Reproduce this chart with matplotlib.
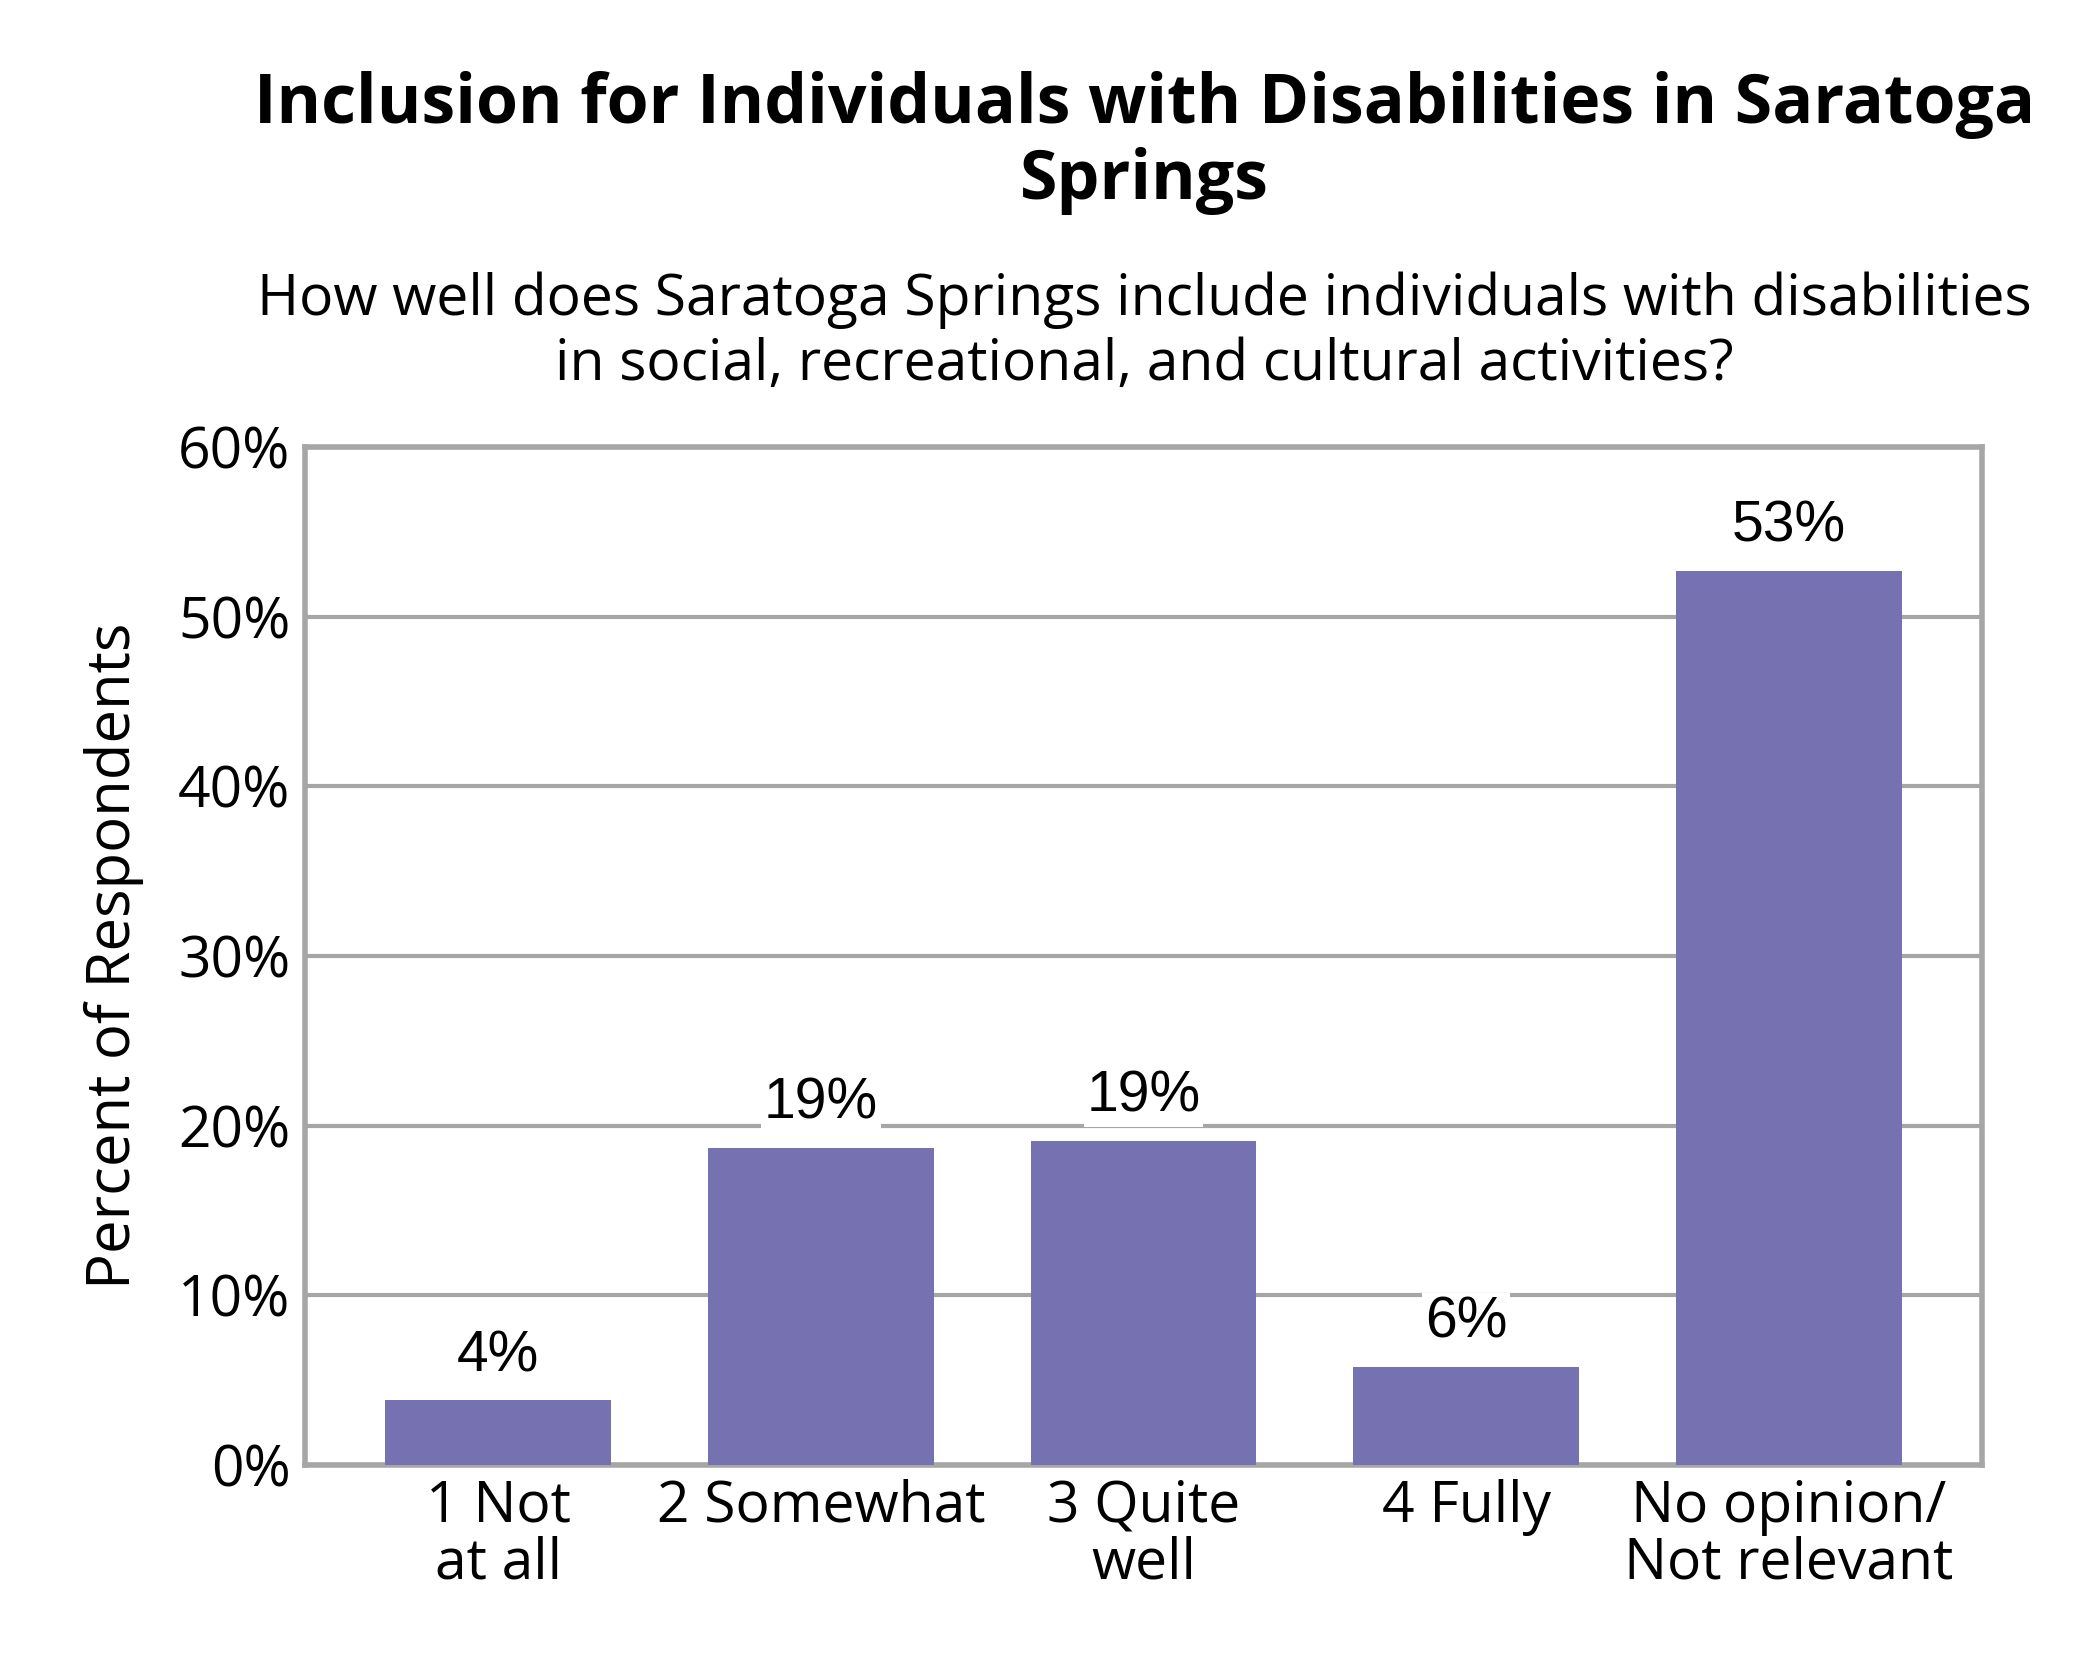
import matplotlib
matplotlib.use("Agg")
import matplotlib.pyplot as plt

categories = ["1 Not\nat all", "2 Somewhat", "3 Quite\nwell", "4 Fully", "No opinion/\nNot relevant"]
values = [3.8, 18.7, 19.1, 5.8, 52.7]
value_labels = ["4%", "19%", "19%", "6%", "53%"]
yticks = [0, 10, 20, 30, 40, 50, 60]
ytick_labels = ["0%", "10%", "20%", "30%", "40%", "50%", "60%"]

fig = plt.figure(figsize=(21, 16.8), dpi=100)
ax = fig.add_axes([0.145, 0.128, 0.799, 0.606])
x = range(len(categories))
ax.bar(x, values, width=0.7, color="#7672B2", zorder=3)
for xi, v, lab in zip(x, values, value_labels):
    ax.text(xi, v + 1.0, lab, ha="center", va="bottom", fontsize=41,
            family="Liberation Sans", zorder=4,
            bbox=dict(facecolor="white", edgecolor="none", pad=2))
ax.set_ylim(0, 60)
ax.set_xlim(-0.6, 4.6)
ax.set_yticks(yticks)
ax.set_yticklabels(ytick_labels, fontsize=41, family="Open Sans")
ax.set_xticks(list(x))
ax.set_xticklabels(categories, fontsize=41, family="Open Sans", linespacing=1.0)
ax.tick_params(length=0, pad=10)
ax.yaxis.grid(True, color="#A6A6A6", linewidth=3, zorder=0)
for s in ax.spines.values():
    s.set_color("#A6A6A6")
    s.set_linewidth(4)
ax.set_ylabel("Percent of Respondents", fontsize=43, family="Open Sans", labelpad=25)
fig.text(0.545, 0.915, "Inclusion for Individuals with Disabilities in Saratoga\nSprings",
         ha="center", va="center", fontsize=49, fontweight="bold", family="Open Sans", linespacing=1.15)
fig.text(0.545, 0.802, "How well does Saratoga Springs include individuals with disabilities\nin social, recreational, and cultural activities?",
         ha="center", va="center", fontsize=41, family="Open Sans", linespacing=1.2)
fig.savefig("out.png")
